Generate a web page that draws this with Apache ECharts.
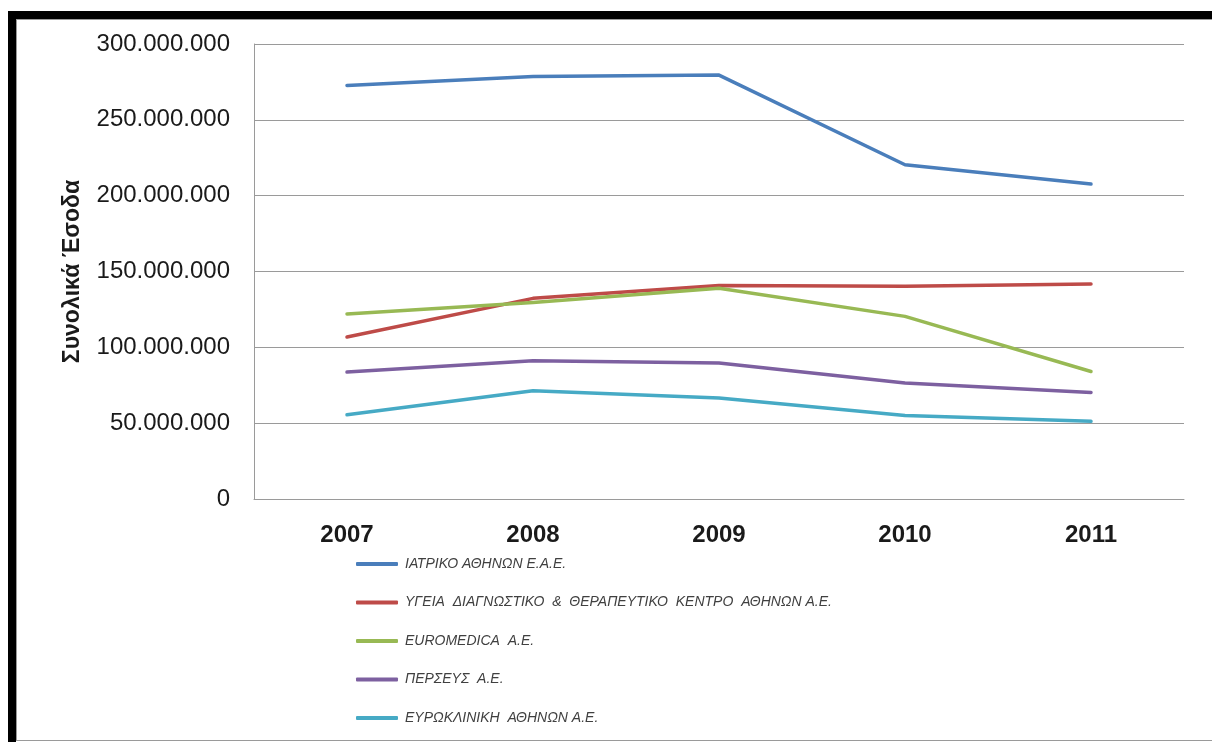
<!DOCTYPE html>
<html>
<head>
<meta charset="utf-8">
<script src="https://cdn.jsdelivr.net/npm/echarts@6/dist/echarts.min.js"></script>
<style>
  html, body { margin: 0; padding: 0; background: #fff; }
  #frame { position: absolute; left: 8px; top: 11px; width: 1204px; height: 731px;
           border-top: 8px solid #000; border-left: 8px solid #000; box-sizing: border-box; }
  #inner { position: absolute; left: 0; top: 0; right: 0; bottom: 1px;
           border-top: 1px solid #9a9a9a; border-left: 1px solid #9a9a9a; border-bottom: 1px solid #9a9a9a; }
  #chart { position: absolute; left: 0; top: 0; width: 1212px; height: 742px; }
</style>
</head>
<body>
<div id="frame"><div id="inner"></div></div>
<div id="chart"></div>
<script>
const categories = ['2007', '2008', '2009', '2010', '2011'];
const seriesNames = [
  'ΙΑΤΡΙΚΟ ΑΘΗΝΩΝ Ε.Α.Ε.',
  'ΥΓΕΙΑ  ΔΙΑΓΝΩΣΤΙΚΟ  &  ΘΕΡΑΠΕΥΤΙΚΟ  ΚΕΝΤΡΟ  ΑΘΗΝΩΝ Α.Ε.',
  'EUROMEDICA  A.E.',
  'ΠΕΡΣΕΥΣ  Α.Ε.',
  'ΕΥΡΩΚΛΙΝΙΚΗ  ΑΘΗΝΩΝ Α.Ε.'
];
const iatriko     = [272700000, 278500000, 279500000, 220400000, 207700000];
const ygeia       = [106800000, 132300000, 140800000, 140200000, 141800000];
const euromedica  = [122000000, 129600000, 139000000, 120400000, 84100000];
const perseus     = [83700000, 91200000, 89700000, 76500000, 70300000];
const euroklinik  = [55600000, 71400000, 66600000, 55100000, 51200000];
const colors = ['#4A7EBB', '#BE4B48', '#98B954', '#7D60A0', '#46AAC5'];
const yTitle = 'Συνολικά Έσοδα';

const allValues = [iatriko, ygeia, euromedica, perseus, euroklinik];

function fmt(v) {
  return String(Math.round(v)).replace(/\B(?=(\d{3})+(?!\d))/g, '.');
}

const chart = echarts.init(document.getElementById('chart'), null, { renderer: 'canvas' });
chart.setOption({
  animation: false,
  backgroundColor: 'transparent',
  color: colors,
  grid: { left: 254, top: 44, right: 28, bottom: 243, containLabel: false },
  xAxis: {
    type: 'category',
    data: categories,
    boundaryGap: true,
    axisLine: { show: true, lineStyle: { color: '#9a9a9a', width: 1 } },
    axisTick: { show: false },
    axisLabel: { margin: 24, color: '#1a1a1a', fontSize: 24, fontWeight: 'bold', fontFamily: 'Liberation Sans' }
  },
  yAxis: {
    type: 'value',
    min: 0, max: 300000000, interval: 50000000,
    name: yTitle,
    nameLocation: 'middle',
    nameGap: 170,
    nameRotate: 90,
    nameTextStyle: { fontSize: 23, fontWeight: 'bold', color: '#1a1a1a', fontFamily: 'Liberation Sans' },
    axisLine: { show: true, lineStyle: { color: '#9a9a9a', width: 1 } },
    axisTick: { show: false },
    splitLine: { show: true, lineStyle: { color: '#9a9a9a', width: 1 } },
    axisLabel: { margin: 24, color: '#1a1a1a', fontSize: 24, fontFamily: 'Liberation Sans', formatter: fmt }
  },
  legend: {
    orient: 'vertical',
    left: 356,
    top: 557,
    padding: 0,
    icon: 'roundRect',
    itemWidth: 42,
    itemHeight: 4,
    itemGap: 24.5,
    textStyle: { fontSize: 14, lineHeight: 14, fontStyle: 'italic', color: '#404040', fontFamily: 'Liberation Sans', padding: [0, 0, 0, 2] },
    data: seriesNames
  },
  series: seriesNames.map((n, i) => ({
    name: n,
    type: 'line',
    data: allValues[i],
    symbol: 'none',
    lineStyle: { width: 3.5, color: colors[i], cap: 'round', join: 'round' },
    itemStyle: { color: colors[i] }
  }))
});
</script>
</body>
</html>
